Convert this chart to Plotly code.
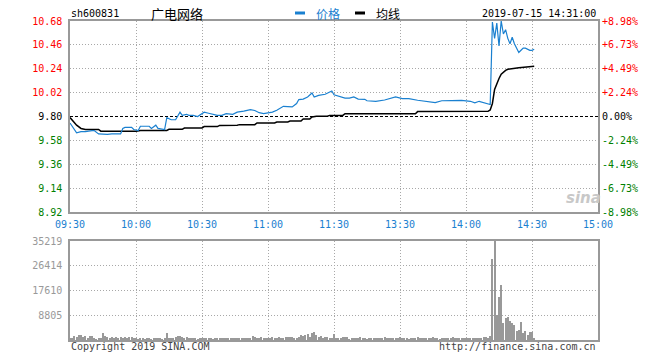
import plotly.graph_objects as go

# ---------------- data ----------------
stock_code = "sh600831"
stock_name = "广电网络"
timestamp = "2019-07-15 14:31:00"
prev_close = 9.80

time_tick_pos = [0, 30, 60, 90, 120, 150, 180, 210, 240]
time_tick_labels = ["09:30", "10:00", "10:30", "11:00", "11:30", "13:30", "14:00", "14:30", "15:00"]

price_ticks = [10.68, 10.46, 10.24, 10.02, 9.80, 9.58, 9.36, 9.14, 8.92]
pct_ticks = [8.98, 6.73, 4.49, 2.24, 0.00, -2.24, -4.49, -6.73, -8.98]
vol_ticks = [8805, 17610, 26414, 35219]

# price line (minute index from 09:30, price)
price_min = [0, 1, 3, 5, 7, 10, 11, 13, 15, 17, 19, 21, 23, 24, 25, 28, 29, 31, 32, 34,
             36, 37, 39, 40, 42, 43, 44, 46, 48, 50, 51, 53, 54, 56, 58, 60, 61, 63, 65, 67,
             69, 71, 74, 76, 79, 82, 84, 86, 88, 89, 92, 94, 95, 97, 101, 103, 104, 106, 108, 110,
             111, 113, 116, 119, 120, 122, 125, 127, 129, 131, 134, 135, 138, 139, 143, 148, 151, 154, 158, 163,
             166, 169, 173, 178, 182, 184, 186, 189, 191, 192, 193, 194, 195, 196, 197, 198, 199, 200, 201, 202,
             203, 204, 205, 206, 207, 208, 209, 210, 211]
price_val = [9.74, 9.71, 9.65, 9.66, 9.66, 9.67, 9.67, 9.64, 9.635, 9.635, 9.64, 9.64, 9.64, 9.69, 9.70, 9.70, 9.68, 9.67, 9.71, 9.71,
             9.71, 9.69, 9.72, 9.69, 9.68, 9.68, 9.79, 9.77, 9.77, 9.84, 9.81, 9.82, 9.81, 9.81, 9.80, 9.83, 9.84, 9.83, 9.82, 9.81,
             9.81, 9.826, 9.82, 9.84, 9.85, 9.864, 9.855, 9.835, 9.826, 9.83, 9.84, 9.857, 9.87, 9.894, 9.888, 9.92, 9.956, 9.96, 9.98, 10.016,
             9.98, 9.995, 10.005, 10.035, 10.0, 9.99, 9.97, 9.97, 9.98, 9.96, 9.958, 9.945, 9.945, 9.94, 9.952, 9.98, 9.965, 9.965, 9.95, 9.94,
             9.928, 9.945, 9.948, 9.948, 9.94, 9.925, 9.94, 9.925, 9.91, 10.67, 10.52, 10.66, 10.45, 10.68, 10.56, 10.60, 10.52, 10.47, 10.53, 10.47,
             10.43, 10.39, 10.41, 10.43, 10.43, 10.42, 10.41, 10.41, 10.42]

# average price line
avg_min = [0, 3, 5, 7, 13, 14, 30, 32, 44, 45, 51, 52, 60, 61, 67, 68, 76, 77, 84, 85,
           93, 94, 99, 100, 105, 106, 109, 110, 112, 117, 118, 124, 125, 157, 158, 190, 191, 192, 193, 194,
           195, 196, 197, 198, 199, 201, 204, 211]
avg_val = [9.79, 9.72, 9.69, 9.68, 9.68, 9.665, 9.665, 9.672, 9.672, 9.682, 9.682, 9.694, 9.694, 9.707, 9.707, 9.718, 9.72, 9.725, 9.725, 9.74,
           9.74, 9.749, 9.749, 9.758, 9.758, 9.777, 9.777, 9.795, 9.802, 9.802, 9.81, 9.81, 9.826, 9.826, 9.845, 9.848, 9.86, 9.92, 10.05, 10.11,
           10.15, 10.19, 10.21, 10.225, 10.235, 10.242, 10.25, 10.262]

# per-minute volume, minutes 0..211
volume = [
    830, 590, 1420, 1180, 1770, 1770, 950, 1420, 700, 1300, 1420, 600, 350, 710, 590, 2480, 1420, 1060, 830, 1180,
    470, 1180, 830, 1060, 830, 1180, 590, 1060, 940, 700,
    470, 350, 590, 470, 350, 470, 590, 350, 470, 830, 590, 470, 350, 700, 2480, 470, 590, 830, 1060, 1530,
    1530, 1180, 830, 1180, 590, 830, 470, 590, 350, 470,
    590, 830, 700, 470, 590, 350, 470, 830, 590, 470, 700, 830, 470, 590, 700, 470, 590, 830, 700, 590,
    470, 830, 700, 1420, 940, 590, 700, 1060, 830, 590,
    830, 470, 1060, 700, 590, 940, 700, 830, 1060, 940, 1060, 1060, 830, 700, 1180, 1770, 1300, 1770, 2120, 1060,
    2480, 2830, 1770, 1180, 1530, 590, 1180, 940, 830, 700,
    2130,
    700, 830, 830, 940, 940, 1060, 350, 470, 590, 470, 590, 940, 700, 470, 350, 830, 700, 470, 700, 830,
    590, 470, 1060, 700, 830, 590, 470, 700, 830, 940,
    590, 470, 830, 350, 470, 700, 590, 1180, 700, 470, 830, 700, 590, 830, 1060, 590, 470, 350, 590, 700,
    470, 590, 830, 1060, 590, 470, 700, 590, 830, 470,
    590, 470, 830, 700, 590, 470, 830, 1180, 1060, 700, 1300,
    28730, 35219, 8870, 15250, 19500, 6030, 7690, 8040, 6740, 6030, 5200, 3190, 3430, 6400, 2380, 3190, 1770, 2960, 2960, 800,
]
vol_min = list(range(len(volume)))

# ---------------- styling ----------------
MONO = "DejaVu Sans Mono"
CJK = "Noto Sans CJK SC"
RED = "#ff0000"
GREEN = "#008000"
BLUE = "#1a80d0"
GRAY = "#999999"
GRID = "#a8a8a8"


def color_for(v, ref):
    if v > ref + 1e-9:
        return RED
    if v < ref - 1e-9:
        return GREEN
    return "#000000"


price_text = [f'<span style="color:{color_for(v, prev_close)}">{v:.2f}</span>' for v in price_ticks]
pct_text = [f'<span style="color:{color_for(v, 0)}">{"+" if v > 0 else ""}{v:.2f}%</span>' for v in pct_ticks]

W, H = 660, 360
L, R, T, B = 70, 62, 21, 20
PW, PH = W - L - R, H - T - B


def px(xp):
    return (xp - L) / PW


def py(yp):
    return (H - B - yp) / PH


price_top, price_bot = 21, 212
vol_top, vol_bot = 241, 340

fig = go.Figure()
fig.add_trace(go.Bar(x=vol_min, y=volume, xaxis="x2", yaxis="y2", width=0.45,
                     marker=dict(color=GRAY, line=dict(width=0)), hoverinfo="skip"))
fig.add_trace(go.Scatter(x=[0, 240], y=[pct_ticks[-1], pct_ticks[0]], xaxis="x", yaxis="y3",
                         mode="markers", marker=dict(opacity=0), hoverinfo="skip"))
fig.add_trace(go.Scatter(x=avg_min, y=avg_val, xaxis="x", yaxis="y", mode="lines",
                         line=dict(color="#000000", width=1.5), hoverinfo="skip"))
fig.add_trace(go.Scatter(x=price_min, y=price_val, xaxis="x", yaxis="y", mode="lines",
                         line=dict(color=BLUE, width=1.2), hoverinfo="skip"))

axis_common = dict(showline=True, linecolor=GRAY, linewidth=1.5, mirror=True, zeroline=False,
                   showgrid=True, gridcolor=GRID, griddash="1px,2px", gridwidth=1, ticks="")

fig.update_layout(
    width=W, height=H, margin=dict(l=L, r=R, t=T, b=B),
    paper_bgcolor="white", plot_bgcolor="white", showlegend=False,
    xaxis=dict(domain=[0, 1], anchor="y", range=[0, 240], tickmode="array",
               tickvals=time_tick_pos, ticktext=time_tick_labels,
               tickfont=dict(family=MONO, size=10, color=BLUE), ticklabelstandoff=2, **axis_common),
    yaxis=dict(domain=[py(price_bot), py(price_top)], anchor="x", range=[price_ticks[-1], price_ticks[0]],
               tickmode="array", tickvals=price_ticks, ticktext=price_text,
               tickfont=dict(family=MONO, size=10), ticklabelstandoff=4, **axis_common),
    yaxis3=dict(overlaying="y", side="right", anchor="x", range=[pct_ticks[-1], pct_ticks[0]],
                tickmode="array", tickvals=pct_ticks, ticktext=pct_text,
                tickfont=dict(family=MONO, size=10), showgrid=False, zeroline=False,
                showline=False, ticks="", ticklabelstandoff=3),
    xaxis2=dict(domain=[0, 1], anchor="y2", range=[0, 240], tickmode="array",
                tickvals=time_tick_pos, showticklabels=False, **axis_common),
    yaxis2=dict(domain=[py(vol_bot), py(vol_top)], anchor="x2", range=[0, vol_ticks[-1]],
                tickmode="array", tickvals=vol_ticks, ticktext=[str(v) for v in vol_ticks],
                tickfont=dict(family=MONO, size=10, color=GRAY), ticklabelstandoff=4, **axis_common),
    bargap=0,
)

# previous close reference line
fig.add_shape(type="line", xref="x", yref="y", x0=0, x1=240, y0=prev_close, y1=prev_close,
              line=dict(color="white", width=2), layer="between")
fig.add_shape(type="line", xref="x", yref="y", x0=0, x1=240, y0=prev_close, y1=prev_close,
              line=dict(color="black", width=1, dash="3px,2px"), layer="between")

# legend markers
fig.add_shape(type="rect", xref="paper", yref="paper", x0=px(295), x1=px(305), y0=py(14.5), y1=py(11.5),
              fillcolor=BLUE, line=dict(width=0))
fig.add_shape(type="rect", xref="paper", yref="paper", x0=px(355), x1=px(365), y0=py(14.5), y1=py(11.5),
              fillcolor="black", line=dict(width=0))


def ann(text, x, y, xanchor="left", font=None):
    fig.add_annotation(text=text, x=px(x), y=py(y), xref="paper", yref="paper",
                       xanchor=xanchor, yanchor="middle", showarrow=False, font=font)


ann(stock_code, 69, 13, font=dict(family=MONO, size=10, color="black"))
ann(stock_name, 149, 13, font=dict(family=CJK, size=13, color="black"))
ann("价格", 314, 13, font=dict(family=CJK, size=12, color=BLUE))
ann("均线", 374, 13, font=dict(family=CJK, size=12, color="black"))
ann(timestamp, 598, 13, xanchor="right", font=dict(family=MONO, size=10, color="black"))
ann("Copyright 2019 SINA.COM", 69, 346, font=dict(family=MONO, size=10, color="#444444"))
ann("http://finance.sina.com.cn", 598, 346, xanchor="right", font=dict(family=MONO, size=10, color="#444444"))
ann("<b><i>sina</i></b>", 583, 198, xanchor="center", font=dict(family="DejaVu Sans", size=15, color="#c8c8c8"))

fig.write_html("out.html", config={"displayModeBar": False},
               post_script="document.body.style.margin='0';document.body.style.padding='0';")
